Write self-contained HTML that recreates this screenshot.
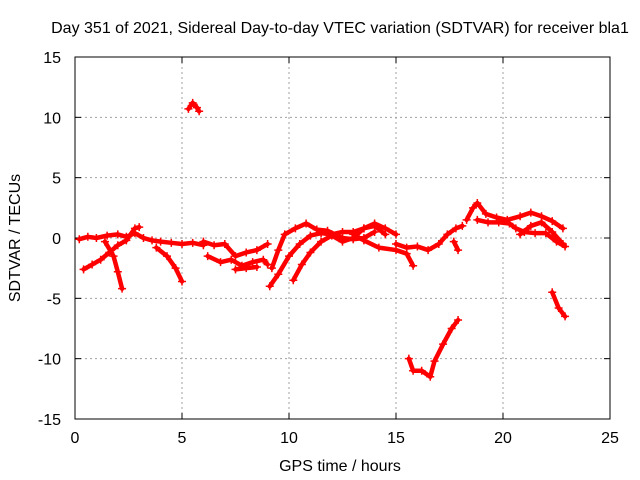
<!DOCTYPE html>
<html><head><meta charset="utf-8"><style>
body{margin:0;background:#fff}
svg{display:block;font-family:"Liberation Sans",sans-serif;font-size:16px}
</style></head><body>
<svg id="c" width="640" height="480">
<rect width="640" height="480" fill="#fff"/>
<text x="340" y="33" text-anchor="middle">Day 351 of 2021, Sidereal Day-to-day VTEC variation (SDTVAR) for receiver bla1</text>
<g id="grid"></g>
<g id="axes"></g>
<g id="marks"></g>
<text x="340" y="471" text-anchor="middle">GPS time / hours</text>
<text transform="translate(20,238) rotate(-90)" text-anchor="middle">SDTVAR / TECUs</text>
</svg>
<script>
const xTicks=[0,5,10,15,20,25];
const yTicks=[15,10,5,0,-5,-10,-15];
const trackA=[[0.2,-0.1],[0.6,0.1],[1.0,0.0],[1.5,0.2],[2.0,0.3],[2.4,0.1],[2.8,0.4],[3.2,0.0],[3.6,-0.2],[4.0,-0.3],[4.5,-0.4],[5.0,-0.5],[5.5,-0.4],[6.0,-0.6]];
const trackB=[[0.4,-2.6],[0.8,-2.2],[1.2,-1.8],[1.6,-1.2],[2.0,-0.6],[2.4,-0.2],[2.8,0.8],[3.0,0.9]];
const trackC=[[1.4,-0.3],[1.8,-1.5],[2.0,-2.8],[2.2,-4.2]];
const trackD=[[3.8,-0.8],[4.3,-1.5],[4.7,-2.5],[5.0,-3.6]];
const trackE=[[5.3,10.7],[5.5,11.2],[5.7,10.8],[5.8,10.5]];
const trackF=[[6.0,-0.3],[6.5,-0.6],[7,-0.5],[7.5,-1.5],[8,-1.2],[8.5,-1.0],[9,-0.5]];
const trackG=[[6.2,-1.5],[6.8,-2.0],[7.3,-1.8],[7.8,-2.3],[8.3,-2.0],[8.8,-1.8],[9.0,-2.2]];
const trackH=[[7.5,-2.6],[8,-2.5],[8.5,-2.4]];
const trackI=[[9.1,-4.0],[9.5,-3.0],[10,-1.5],[10.5,-0.5],[11,0.2],[11.5,0.4],[12,0.3],[12.5,0.5],[13,0.5],[13.5,0.8],[14,1.0],[14.5,0.3]];
const trackJ=[[9.2,-2.5],[9.5,-1],[9.8,0.3],[10.3,0.8],[10.8,1.2],[11.3,0.7],[11.8,0.6],[12.5,0.0],[13,-0.1],[13.5,0.0],[14,0.5]];
const trackK=[[10.2,-3.5],[10.6,-2.2],[11,-1.2],[11.5,-0.3],[12,0.2],[12.5,-0.3],[13,0.0],[13.5,0.8],[14,1.2],[14.5,0.8],[15,0.3]];
const trackL=[[13,0.3],[13.5,-0.2],[14.2,-0.8],[15,-1.0],[15.5,-1.3],[15.8,-2.3]];
const trackM=[[15,-0.5],[15.5,-0.8],[16,-0.7],[16.5,-1.0],[17,-0.5],[17.4,0.3],[17.8,0.8],[18.1,1.0]];
const trackN=[[17.7,-0.3],[17.9,-1.0]];
const trackO=[[15.6,-10.0],[15.8,-11.0],[16.2,-11.0],[16.6,-11.5],[16.8,-10.2],[17.2,-8.8],[17.6,-7.5],[17.9,-6.8]];
const trackP=[[18.3,1.5],[18.6,2.5],[18.8,2.9],[19.2,2.0],[19.7,1.7],[20.2,1.5],[20.8,1.8],[21.3,2.1],[21.8,1.8],[22.3,1.4],[22.8,0.8]];
const trackQ=[[18.8,1.5],[19.3,1.3],[19.8,1.3],[20.3,1.2],[20.6,0.8],[21,0.5],[21.5,0.4],[22,0.4],[22.5,-0.3],[22.9,-0.7]];
const trackR=[[20.8,0.3],[21.3,1.0],[21.8,1.3],[22.3,0.5],[22.8,-0.5]];
const trackS=[[22.3,-4.5],[22.6,-5.8],[22.9,-6.5]];
const tracks=[trackA,trackB,trackC,trackD,trackE,trackF,trackG,trackH,trackI,trackJ,trackK,trackL,trackM,trackN,trackO,trackP,trackQ,trackR,trackS];

const L=75,R=610,T=57,B=419;
const sx=v=>L+(v-0)/(25-0)*(R-L);
const sy=v=>B-(v+15)/30*(B-T);
const NS="http://www.w3.org/2000/svg";
function mk(tag,attrs,parent){const e=document.createElementNS(NS,tag);for(const k in attrs)e.setAttribute(k,attrs[k]);parent.appendChild(e);return e;}
const grid=document.getElementById('grid'),axes=document.getElementById('axes'),marks=document.getElementById('marks');
xTicks.forEach(t=>{
  const x=sx(t);
  if(t>0&&t<25){const g=mk('line',{x1:x,x2:x,y1:T,y2:B,stroke:'#a0a0a0','stroke-dasharray':'2,3'},grid);
  
  }
  mk('line',{x1:x,x2:x,y1:B,y2:B-6,stroke:'#000'},axes);
  mk('line',{x1:x,x2:x,y1:T,y2:T+6,stroke:'#000'},axes);
  const tx=mk('text',{x:x,y:B+24,'text-anchor':'middle'},axes);tx.textContent=t;
  
  
});
yTicks.forEach(t=>{
  const y=sy(t);
  if(t>-15&&t<15){const g=mk('line',{x1:L,x2:R,y1:y,y2:y,stroke:'#a0a0a0','stroke-dasharray':'2,3'},grid);
  
  }
  mk('line',{x1:L,x2:L+6,y1:y,y2:y,stroke:'#000'},axes);
  mk('line',{x1:R,x2:R-6,y1:y,y2:y,stroke:'#000'},axes);
  const tx=mk('text',{x:L-14,y:y+6,'text-anchor':'end'},axes);tx.textContent=t;
  
  
});
const frame=mk('rect',{x:L,y:T,width:R-L,height:B-T,fill:'none',stroke:'#000'},axes);


tracks.forEach(tr=>{
  const pts=tr.map(p=>sx(p[0])+','+sy(p[1])).join(' ');
  const pl=mk('polyline',{points:pts,fill:'none',stroke:'#f00','stroke-width':4.5,'stroke-linejoin':'round','stroke-linecap':'round'},marks);
  
  
  tr.forEach(p=>{
    const x=sx(p[0]),y=sy(p[1]);
    const m=mk('path',{d:`M${x-4},${y}H${x+4}M${x},${y-4}V${y+4}`,stroke:'#f00','stroke-width':1.5},marks);
    
    
  });
});
</script>
</body></html>
